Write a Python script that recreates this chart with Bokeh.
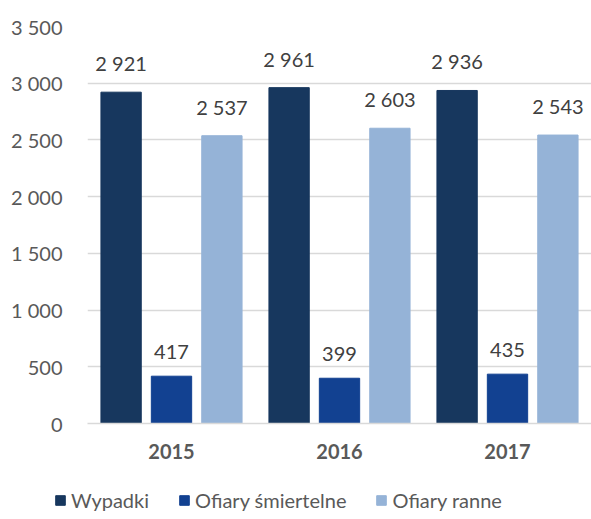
from bokeh.plotting import figure
from bokeh.models import ColumnDataSource, Legend, LegendItem, FixedTicker, CustomJSTickFormatter
from bokeh.transform import dodge
from bokeh.core.properties import value
from bokeh.embed import file_html
from bokeh.resources import INLINE

years = ["2015", "2016", "2017"]
series_names = ["Wypadki", "Ofiary śmiertelne", "Ofiary ranne"]
wypadki = [2921, 2961, 2936]
smiertelne = [417, 399, 435]
ranne = [2537, 2603, 2543]
y_ticks = [0, 500, 1000, 1500, 2000, 2500, 3000, 3500]

colors = ["#17375E", "#124191", "#95B3D7"]
FONT = "Lato"
FS = "20px"

def fmt(v):
    return f"{v:,}".replace(",", " ")

src = ColumnDataSource(dict(
    years=years,
    w=wypadki, s=smiertelne, r=ranne,
    wl=[fmt(v) for v in wypadki],
    sl=[fmt(v) for v in smiertelne],
    rl=[fmt(v) for v in ranne],
))

p = figure(x_range=years, y_range=(0, 3500), width=591, height=475, output_backend="svg",
           toolbar_location=None, min_border_left=87, min_border_right=0,
           min_border_top=26, min_border_bottom=52)
p.outline_line_color = None

off = 0.30
bw = 0.24
renderers = []
for col, lab, c, dx in [("w", "wl", colors[0], -off), ("s", "sl", colors[1], 0.0), ("r", "rl", colors[2], off)]:
    r = p.vbar(x=dodge("years", dx, range=p.x_range), top=col, width=bw, source=src,
               fill_color=c, line_color=c)
    renderers.append(r)
    p.text(x=dodge("years", dx, range=p.x_range), y=col, text=lab, source=src,
           text_align="center", text_baseline="bottom", y_offset=-17,
           text_font=value(FONT), text_font_size=FS, text_color="#404040")

p.yaxis.ticker = FixedTicker(ticks=y_ticks)
p.yaxis.formatter = CustomJSTickFormatter(code="return tick.toString().replace(/\\B(?=(\\d{3})+(?!\\d))/g, ' ');")
p.yaxis.axis_line_color = None
p.yaxis.major_tick_line_color = None
p.yaxis.minor_tick_line_color = None
p.yaxis.major_label_text_font = FONT
p.yaxis.major_label_text_font_size = FS
p.yaxis.major_label_text_color = "#595959"
p.yaxis.major_label_standoff = 19

p.xaxis.axis_line_color = "#D9D9D9"
p.xaxis.axis_line_width = 1.5
p.xaxis.major_tick_line_color = None
p.xaxis.minor_tick_line_color = None
p.xaxis.major_label_text_font = FONT
p.xaxis.major_label_text_font_size = FS
p.xaxis.major_label_text_font_style = "bold"
p.xaxis.major_label_text_color = "#595959"
p.xaxis.major_label_standoff = 14

p.xgrid.grid_line_color = None
p.ygrid.grid_line_color = "#D9D9D9"
p.ygrid.grid_line_width = 1.5

# legend strip (placeholder renderers carry only the series colours)
lg = figure(width=591, height=44, output_backend="svg", toolbar_location=None,
            x_range=(0, 1), y_range=(0, 1), min_border=0)
lg.axis.visible = False
lg.grid.grid_line_color = None
lg.outline_line_color = None
nan = float("nan")
lrs = [lg.vbar(x=[nan], top=[nan], width=0.1, fill_color=c, line_color=c) for c in colors]
legend = Legend(items=[LegendItem(label=n, renderers=[r]) for n, r in zip(series_names, lrs)],
                orientation="horizontal", location=(54, 7),
                label_text_font=FONT, label_text_font_size=FS, label_text_color="#595959",
                glyph_width=12, glyph_height=12, spacing=29, label_standoff=5,
                border_line_color=None, background_fill_alpha=0, padding=4, margin=0)
lg.add_layout(legend, "center")

open("out.html", "w").write(file_html([p, lg], INLINE))
